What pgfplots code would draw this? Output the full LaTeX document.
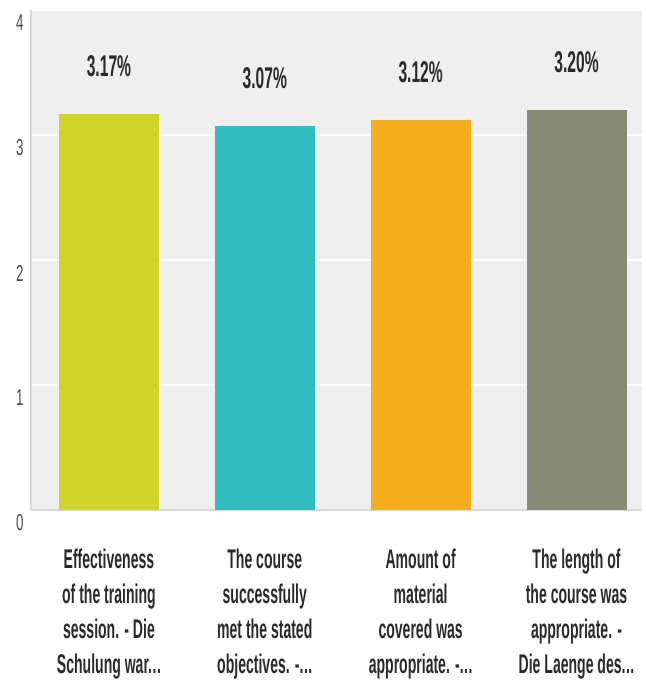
\documentclass[border=0pt]{standalone}
\usepackage{fontspec}
\setmainfont{Liberation Sans}[FakeStretch=0.58]
\newfontfamily\condbold{Liberation Sans Bold}[FakeStretch=0.52]
\usepackage{pgfplots}
\pgfplotsset{compat=1.18}
\definecolor{bgc}{HTML}{EFEFEF}
\definecolor{axc}{HTML}{D9D9D9}
\definecolor{c1}{HTML}{D0D32A}
\definecolor{c2}{HTML}{33BCBF}
\definecolor{c3}{HTML}{F5AE1E}
\definecolor{c4}{HTML}{888A78}
\definecolor{txt}{HTML}{2A2A2A}
\newcommand{\dd}{.\kern0.5pt.\kern0.5pt.}
\begin{document}
\begin{tikzpicture}[x=1pt,y=1pt]
\path[use as bounding box] (0,0) rectangle (646,681);
\begin{axis}[
  at={(31pt,171pt)}, anchor=south west,
  width=611pt, height=500pt, scale only axis,
  xmin=-0.5, xmax=3.42, ymin=0, ymax=4,
  axis background/.style={fill=bgc},
  axis lines*=left,
  axis line style={axc, line width=2pt},
  ytick={0,1,2,3,4},
  ymajorgrids, grid style={white, line width=2pt},
  major tick length=0pt,
  xtick={0,1,2,3},
  xticklabels={{Effectiveness\\of the training\\session. - Die\\Schulung war\dd},
               {The course\\successfully\\met the stated\\objectives. -\dd},
               {Amount of\\material\\covered was\\appropriate. -\dd},
               {The length of\\the course was\\appropriate. -\\Die Laenge des\dd}},
  xticklabel style={align=center, anchor=north, yshift=-35pt, text=txt,
     font=\condbold\fontsize{27}{35}\selectfont},
  yticklabel style={anchor=east, yshift=-13pt, xshift=-4pt, text=black!70,
     font=\fontsize{23}{24}\selectfont},
  /pgf/number format/assume math mode=true,
  ybar,
  bar width=100pt,
  nodes near coords={\pgfmathprintnumber[fixed,fixed zerofill,precision=2]{\pgfplotspointmeta}\%},
  nodes near coords style={anchor=center, yshift=48pt, text=txt, font=\condbold\fontsize{30}{32}\selectfont},
]
\addplot[fill=c1, draw=none, bar shift=0pt] coordinates {(0,3.17)};
\addplot[fill=c2, draw=none, bar shift=0pt] coordinates {(1,3.07)};
\addplot[fill=c3, draw=none, bar shift=0pt] coordinates {(2,3.12)};
\addplot[fill=c4, draw=none, bar shift=0pt] coordinates {(3,3.20)};
\end{axis}
\end{tikzpicture}
\end{document}
